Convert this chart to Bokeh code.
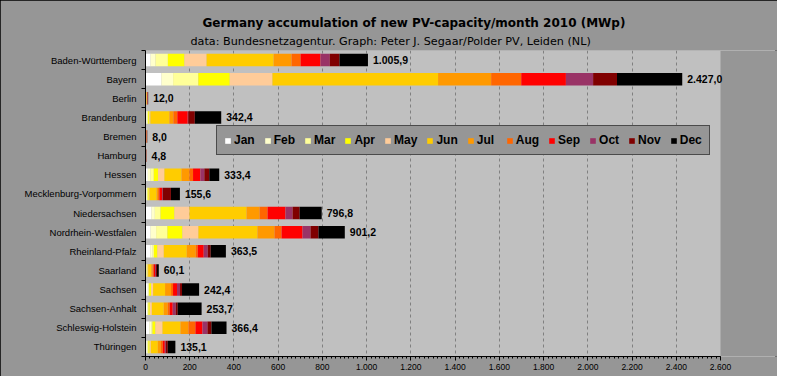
from bokeh.plotting import figure
from bokeh.models import (ColumnDataSource, Range1d, FixedTicker, LabelSet, Title, BoxAnnotation)
from bokeh.core.properties import value
from bokeh.embed import file_html
from bokeh.resources import INLINE

title_text = "Germany accumulation of new PV-capacity/month 2010 (MWp)"
subtitle_text = "data: Bundesnetzagentur. Graph: Peter J. Segaar/Polder PV, Leiden (NL)"

states = ["Baden-Württemberg", "Bayern", "Berlin", "Brandenburg", "Bremen", "Hamburg",
          "Hessen", "Mecklenburg-Vorpommern", "Niedersachsen", "Nordrhein-Westfalen",
          "Rheinland-Pfalz", "Saarland", "Sachsen", "Sachsen-Anhalt",
          "Schleswig-Holstein", "Thüringen"]

months = ["Jan", "Feb", "Mar", "Apr", "May", "Jun", "Jul", "Aug", "Sep", "Oct", "Nov", "Dec"]
colors = ["#FFFFFF", "#FFFFCC", "#FFFF99", "#FFFF00", "#FFCC99", "#FFCC00",
          "#FF9900", "#FF6600", "#FF0000", "#993366", "#800000", "#000000"]

jan = [22.6, 72, 0.5, 4, 0.3, 0.2, 10.5, 4, 27, 22.6, 22, 2, 10.5, 7.5, 18, 5]
feb = [22.6, 53, 0.5, 4, 0.3, 0.2, 12, 3, 15, 25.6, 10, 2, 3, 3, 9, 4]
mar = [56, 114, 0.5, 4, 0.4, 0.3, 15, 3, 26, 51, 6, 2, 3, 3, 4.5, 4]
apr = [75, 142, 1, 6, 0.5, 0.3, 19.5, 5, 63, 68, 16, 3, 9, 6, 13.6, 6]
may = [100, 193, 1, 4, 0.5, 0.4, 28.5, 3, 68, 72, 28.6, 3, 9, 9, 31.7, 5]
jun = [303, 749, 2, 86, 1.5, 1.0, 77, 32, 258, 267, 104, 14, 54, 54, 81.4, 31.7]
jul = [81, 240, 1, 18, 0.8, 0.4, 36, 7, 59, 77, 40.7, 6, 27, 18, 36, 13.6]
aug = [41, 136, 1, 18, 0.5, 0.3, 16.5, 6, 36, 32, 9, 5, 9, 9, 31.7, 9]
sep = [90, 202, 1.5, 47, 1, 0.6, 33, 12, 81, 95, 27, 6, 18, 13.6, 31.7, 9]
oct_ = [42, 123, 1, 2, 0.5, 0.3, 18, 3, 32, 36, 18, 4, 13.6, 13.6, 22.6, 4.5]
nov = [44, 108, 1, 30, 1.2, 0.3, 22.5, 37, 32, 36, 13.6, 5, 9, 9, 18, 9]
dec = [128.7, 295, 1, 119.4, 0.5, 0.5, 44.9, 40.6, 99.8, 119, 68.6, 8.1, 77.3, 108, 68.2, 34.3]

totals = [1005.9, 2427.0, 12.0, 342.4, 8.0, 4.8, 333.4, 155.6, 796.8, 901.2,
          363.5, 60.1, 242.4, 253.7, 366.4, 135.1]

x_max = 2600
x_ticks = list(range(0, x_max + 1, 200))
x_minor = list(range(0, x_max + 1, 20))


def de_fmt(v, dec_places=1):
    s = f"{v:,.{dec_places}f}"
    return s.replace(",", "X").replace(".", ",").replace("X", ".")


monthly = [jan, feb, mar, apr, may, jun, jul, aug, sep, oct_, nov, dec]
ypos = list(range(len(states)))
data = {"state": states, "y": ypos, "total": totals,
        "label": [de_fmt(t) for t in totals]}
for m, vals in zip(months, monthly):
    data[m] = vals
source = ColumnDataSource(data)

# the plotting frame is wider than the 0..2600 axis so that the value label of
# the longest bar is not clipped; the light plot area is painted from 0 to 2600
W, H = 777, 376
LEFT, RIGHT, TOP, BOTTOM = 145, 0, 50, 20
AXIS_PX = 575
FRAME_PX = W - LEFT - RIGHT
x_end = x_max * FRAME_PX / AXIS_PX

p = figure(width=W, height=H, output_backend="svg", toolbar_location=None,
           x_range=Range1d(0, x_end), y_range=Range1d(len(states) - 0.5, -0.5),
           min_border_left=LEFT, min_border_right=RIGHT, min_border_top=TOP,
           min_border_bottom=BOTTOM,
           background_fill_color="#969696", border_fill_color="#969696",
           outline_line_color=None,
           styles={"outline": "2px solid black", "outline-offset": "-2px"})

p.add_layout(BoxAnnotation(left=0, right=x_max, fill_color="#C0C0C0", fill_alpha=1,
                           line_color=None, level="image"))

renderers = p.hbar_stack(months, y="y", height=0.66, source=source,
                         color=colors, line_color=None,
                         legend_label=months)

labels = LabelSet(x="total", y="y", text="label", source=source, x_offset=5,
                  text_baseline="middle", text_align="left",
                  text_font=value("Liberation Sans"), text_font_style="bold",
                  text_font_size="10.5px", text_color="black")
p.add_layout(labels)

# titles (first added sits closest to the plot)
p.add_layout(Title(text=subtitle_text, align="left", offset=45, standoff=5,
                   text_font="DejaVu Sans", text_font_style="normal",
                   text_font_size="11.2px", text_color="black"), "above")
p.add_layout(Title(text=title_text, align="left", offset=57, standoff=2,
                   text_font="DejaVu Sans", text_font_style="bold",
                   text_font_size="12px", text_color="black"), "above")

# x axis
p.xaxis.bounds = (0, x_max)
p.xaxis.ticker = FixedTicker(ticks=x_ticks, minor_ticks=x_minor)
p.xaxis.major_label_overrides = {t: de_fmt(t, 0) for t in x_ticks}
p.xaxis.major_tick_out = 4
p.xaxis.major_tick_in = 0
p.xaxis.minor_tick_out = 2
p.xaxis.minor_tick_in = 0
p.xaxis.major_label_standoff = 3
p.xaxis.major_label_text_font = "Liberation Sans"
p.xaxis.major_label_text_font_size = "8.5px"
p.xaxis.major_label_text_color = "black"
p.xaxis.axis_line_color = "black"
p.xaxis.major_tick_line_color = "black"
p.xaxis.minor_tick_line_color = "black"

# y axis
p.yaxis.ticker = FixedTicker(ticks=ypos, minor_ticks=[i - 0.5 for i in range(len(states) + 1)])
p.yaxis.major_label_overrides = {i: s for i, s in zip(ypos, states)}
p.yaxis.major_tick_out = 0
p.yaxis.major_tick_in = 0
p.yaxis.minor_tick_out = 4
p.yaxis.minor_tick_in = 0
p.yaxis.major_label_standoff = 5
p.yaxis.major_label_text_font = "Liberation Sans"
p.yaxis.major_label_text_font_size = "9.5px"
p.yaxis.major_label_text_color = "black"
p.yaxis.axis_line_color = "black"
p.yaxis.minor_tick_line_color = "black"

# grids
p.xgrid.ticker = FixedTicker(ticks=x_ticks[1:-1])
p.xgrid.grid_line_color = "#808080"
p.xgrid.grid_line_dash = "3 3"
p.ygrid.grid_line_color = None

# legend
leg = p.legend[0]
leg.orientation = "horizontal"
leg.location = (71, 201)
leg.background_fill_color = "#969696"
leg.background_fill_alpha = 1
leg.border_line_color = "black"
leg.border_line_width = 1
leg.glyph_width = 7
leg.glyph_height = 7
leg.label_standoff = 3
leg.label_height = 13
leg.spacing = 9
leg.padding = 7
leg.margin = 0
leg.label_text_font = "Liberation Sans"
leg.label_text_font_style = "bold"
leg.label_text_font_size = "12px"
leg.label_text_color = "black"
leg.label_text_baseline = "middle"

open("out.html", "w").write(file_html(p, INLINE))
